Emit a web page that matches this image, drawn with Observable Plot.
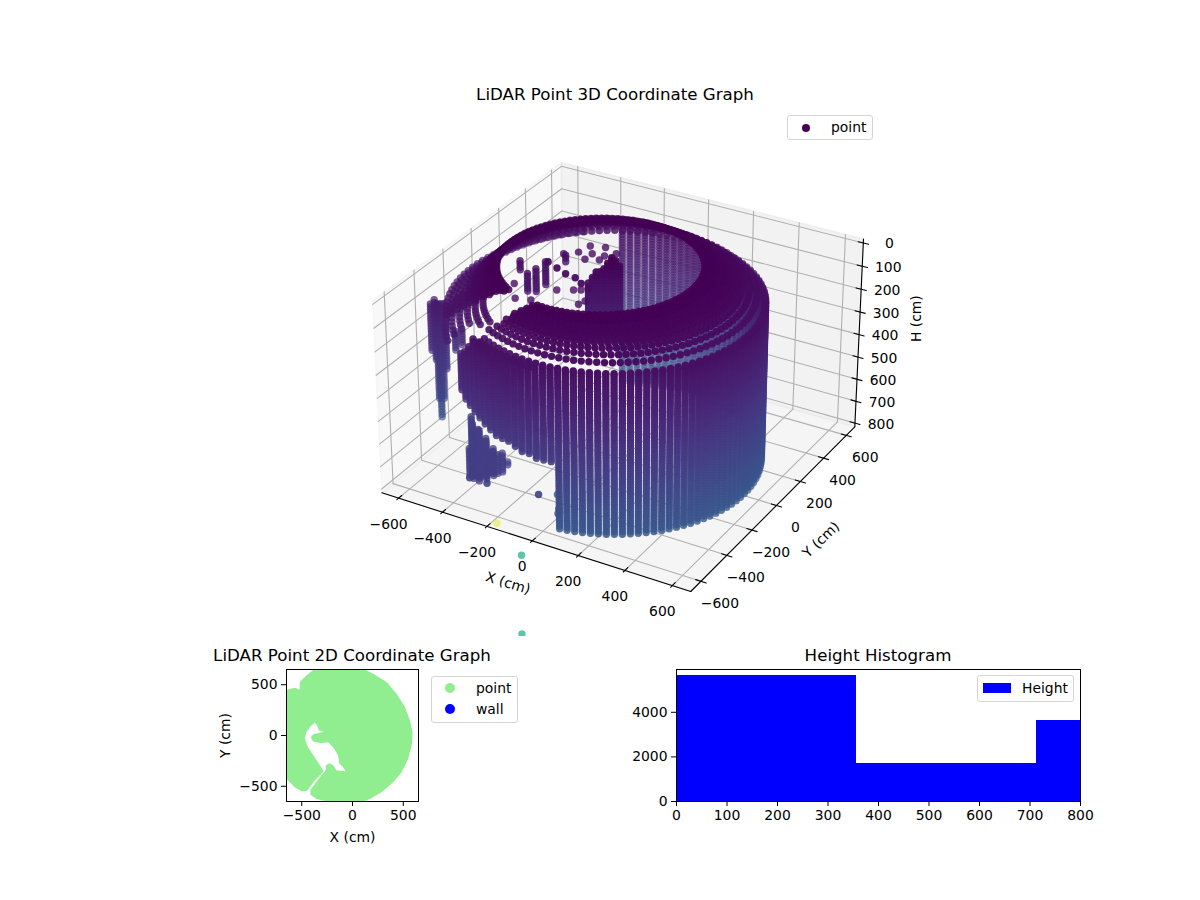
<!DOCTYPE html>
<html><head><meta charset="utf-8">
<script src="https://cdn.jsdelivr.net/npm/d3@7"></script>
<script src="https://cdn.jsdelivr.net/npm/@observablehq/plot@0.6"></script>
<style>
html,body{margin:0;padding:0;background:#fff}
#page{position:relative;width:1200px;height:900px;overflow:hidden;font-family:"DejaVu Sans",sans-serif;color:#000}
.abs{position:absolute}
.title{position:absolute;font-size:16.67px;white-space:nowrap;transform:translateX(-50%)}
.legend{position:absolute;background:rgba(255,255,255,.8);border:1px solid #d5d5d5;border-radius:3px;box-sizing:border-box}
.lt{position:absolute;font-size:13.9px;white-space:nowrap;line-height:16px}
.ld{position:absolute;border-radius:50%}
svg{font-family:"DejaVu Sans",sans-serif;background:transparent}
</style></head><body><div id="page"></div>
<script>
// ---- axis ticks and limits (cm)
const xyTicks=[-600,-400,-200,0,200,400,600];
const hTicks=[0,100,200,300,400,500,600,700,800];
const L=677, hTop=-17, hBottom=817;
// ---- wall: columns reaching the floor
const wallAz=[279,282,285,288,291,294,297,300,303,306,309,312,315,318,321,324,327,330,333,336,339,342,345,348,351,354,357,0,3,6,9,12,15,18,21,24,27,30,33,36,39,42,45,48,51,54,57,60,63,66,69,72,75,78,81,84,87,90,93,96,99,102,105,108,111,114,117];
// ---- wall: stepped columns (azimuth, highest and lowest height, radius)
const stairAz=[276,273,270,267,264,261,258,255,252,249,246,243,240,237,234,231];
const stairTop=[134,134,134,134,134,134,134,134,134,134,134,134,134,180,210,235];
const stairBottom=[535,535,530,527,525,510,502,500,495,485,475,463,450,435,425,400];
const stairRadius=[576,578,580,582,585,587,590,592,595,597,600,603,606,610,614,618];
const wallRows=[134,146,158,170,182,194,206,218,230,242,254,266,278,290,302,314,326,338,350,362,374,386,398,410,422,434,446,458,470,482,494,506,518,530,542,554,566,578,590,602,614,626,638,650,662,674,686,698,710,722,734,746,758,770,782,794,806,818];
const upperRows=[10,22,34,46,58,70,82,94,106,118];
const centerX=-45, centerY=15, wallRadius=575;
// ---- ceiling rings: radius, height, ring centre, gap from/to azimuth
const ringRadius=[395,403,411,419,427,435,444,453,463,474,486,503,523,547,575];
const ringHeight=[0,5,10,15,20,25,31,37,43,50,57,68,82,100,128];
const ringCx=[-105,-102,-98,-95,-92,-88,-85,-82,-78,-75,-70,-65,-58,-52,-45];
const ringCy=[15,15,15,15,15,15,15,15,15,15,15,15,15,15,15];
const gapFrom=[240,238,237,235,233,232,230,229,228,227,226,224,222,220,218];
const gapTo=[262,260,259,258,256,255,254,252,251,250,249,247,245,243,241];
const ringAz=[0,3,6,9,12,15,18,21,24,27,30,33,36,39,42,45,48,51,54,57,60,63,66,69,72,75,78,81,84,87,90,93,96,99,102,105,108,111,114,117,120,123,126,129,132,135,138,141,144,147,150,153,156,159,162,165,168,171,174,177,180,183,186,189,192,195,198,201,204,207,210,213,216,219,222,225,228,231,234,237,240,243,246,249,252,255,258,261,264,267,270,273,276,279,282,285,288,291,294,297,300,303,306,309,312,315,318,321,324,327,330,333,336,339,342,345,348,351,354,357];
// ---- outer lobes of the ceiling
const lobeRadius=[598,620,640,592,606,500,530,560,590,620,645];
const lobeHeight=[140,150,160,136,144,130,150,170,190,210,235];
const lobeFromAz=[105,130,165,241,241,200,200,190,190,190,190];
const lobeToAz=[218,218,218,270,255,232,228,222,222,222,222];
// ---- short hanging columns: x, y, top, bottom, colour value (0 = use height), opacity (0 = depth shade)
const stubX=[-186,-172,-160,-147,-135,-122,-109,-95,-83,-417,-410,-408,-368,-498,-410,-397,-357,-351,-342,-325,-326,-385,-372,-340,-330,-315,-736,-742,-717,-710,-701,-689,-656,-634];
const stubY=[59,66,74,82,90,97,105,111,119,-11,40,108,193,66,-464,-464,-480,-437,-407,-398,-325,-475,-450,-455,-420,-380,-212,-176,-200,-197,-191,-183,-165,-152];
const stubTop=[107,85,64,60,55,25,10,20,40,100,100,100,100,100,641,506,541,593,663,684,754,530,560,600,640,680,220,220,220,220,220,220,350,350];
const stubBottom=[256,256,256,256,256,256,256,256,256,182,208,208,143,156,780,780,780,780,780,780,780,780,770,780,770,770,435,495,650,735,650,520,435,410];
const stubC=[0,0,0,0,0,0,0,0,0,0,0,0,0,0,550,550,550,550,550,550,550,550,550,550,550,550,0,0,0,0,0,0,0,0];
const stubA=[0.95,0.95,0.95,0.95,0.95,0.95,0.95,0.95,0.95,0.8,0.8,0.8,0.8,0.8,0,0,0,0,0,0,0,0,0,0,0,0,0,0,0,0,0,0,0,0];
// ---- single points: x, y, h, colour value, fixed opacity (0 = depth shade)
const soloX=[-393,-336,-283,-234,-190,-147,-412,-346,-287,-244,-189,-164,-114,-106,-319,-261,-198,-228,-280,-228,-162,-279,-375,-332,-429,-349,-135,-73,-165,31,24,-15,0];
const soloY=[103,75,51,41,12,-8,-115,-215,-197,-79,-47,-33,-136,-101,299,318,293,253,192,214,160,246,190,231,-439,-440,-410,-373,-662,-803,-800,-460,-490];
const soloH=[100,100,100,100,100,100,100,100,100,100,100,100,100,100,100,100,100,100,100,100,100,100,100,100,800,800,800,800,800,800,1155,800,800];
const soloC=[100,100,100,100,100,100,100,100,100,100,100,100,100,100,100,100,100,100,100,100,100,100,100,100,620,620,600,1140,2900,1800,1800,700,700];
const soloA=[0.95,0.95,0.95,0.95,0.95,0.95,0.8,0.8,0.8,0.8,0.8,0.8,0.8,0.8,0.8,0.8,0.8,0.8,0.8,0.8,0.8,0.8,0.8,0.8,0.9,0.9,0.9,0.85,0.5,0.7,0.7,0,0];
// ---- 2D outline (cm)
const outlineX=[-372,105,204,336,434,517,566,592,586,549,484,401,286,171,72,-191,-355,-415,-415,-322,-263,-263,-230,-191,-158,-69,-92,-132,-141,-191,-240,-306,-388,-411,-382,-322,-283,-332,-349,-372,-415,-454,-470,-438,-372,-283,-372,-447,-503,-569,-668,-668,-569,-520,-520,-454,-372];
const outlineY=[658,658,609,526,411,280,148,33,-82,-230,-362,-461,-559,-625,-665,-665,-625,-582,-536,-411,-339,-296,-273,-290,-342,-352,-313,-273,-197,-115,-66,-76,-59,-16,16,26,43,49,99,128,89,33,-33,-115,-214,-352,-444,-543,-549,-510,-411,444,470,451,526,592,658];
// ---- histogram
const binStart=[0,356,712];
const binEnd=[356,712,1068];
const binCount=[5650,1700,3630];

// ---- perspective view
const box=[1.19,1.19,0.75], dist=10;
const el=30*Math.PI/180, az=-60*Math.PI/180;
const w=[Math.cos(el)*Math.cos(az),Math.cos(el)*Math.sin(az),Math.sin(el)];
const u=[-w[1],w[0],0].map(v=>v/Math.hypot(w[0],w[1]));
const v=[w[1]*u[2]-w[2]*u[1],w[2]*u[0]-w[0]*u[2],w[0]*u[1]-w[1]*u[0]];
function proj(x,y,h){
  const p=[(x+L)/(2*L)*box[0]-box[0]/2,(y+L)/(2*L)*box[1]-box[1]/2,(hBottom-h)/(hBottom-hTop)*box[2]-box[2]/2];
  const dot=(a,b)=>a[0]*b[0]+a[1]*b[1]+a[2]*b[2];
  const d=dist-dot(w,p);
  return {px:dot(u,p)/d,py:dot(v,p)/d,depth:d};
}
// ---- expand the cloud
const rad=d=>d*Math.PI/180;
let cloud=[];
const add=(x,y,h,c,a0)=>{const q=proj(x,y,h);cloud.push({...q,c:c||h,a0:a0||0});};
const onCircle=(cx,cy,r,a,h)=>add(cx+r*Math.cos(rad(a)),cy+r*Math.sin(rad(a)),h);
wallAz.forEach(a=>wallRows.forEach(h=>onCircle(centerX,centerY,wallRadius,a,h)));
stairAz.forEach((a,i)=>wallRows.filter(h=>h>=stairTop[i]&&h<=stairBottom[i]).forEach(h=>onCircle(centerX,centerY,stairRadius[i],a,h)));
ringRadius.forEach((r,i)=>ringAz.forEach(a=>{
  if(a>gapFrom[i]&&a<gapTo[i]) return;
  onCircle(ringCx[i],ringCy[i],r,a,ringHeight[i]);
}));
lobeRadius.forEach((r,i)=>ringAz.filter(a=>a>=lobeFromAz[i]&&a<=lobeToAz[i]).forEach(a=>onCircle(centerX,centerY,r,a,lobeHeight[i])));
const stubRows=upperRows.concat(wallRows);
stubX.forEach((x,i)=>stubRows.filter(h=>h>=stubTop[i]&&h<=stubBottom[i]).forEach(h=>add(x,stubY[i],h,stubC[i],stubA[i])));
soloX.forEach((x,i)=>add(x,soloY[i],soloH[i],soloC[i],soloA[i]));
const dmin=d3.min(cloud,d=>d.depth), dmax=d3.max(cloud,d=>d.depth);
cloud.forEach(d=>d.a=d.a0||1-0.55*(d.depth-dmin)/(dmax-dmin));
cloud.sort((a,b)=>b.depth-a.depth);

// ---- box furniture
const seg=(list,key,a,b)=>{const p=proj(...a),q=proj(...b);list.push({k:key,px:p.px,py:p.py},{k:key,px:q.px,py:q.py});};
const pane=(pts)=>pts.map(p=>proj(...p));
const paneLeft=pane([[-L,-L,hTop],[-L,L,hTop],[-L,L,hBottom],[-L,-L,hBottom],[-L,-L,hTop]]);
const paneBack=pane([[-L,L,hTop],[L,L,hTop],[L,L,hBottom],[-L,L,hBottom],[-L,L,hTop]]);
const paneFloor=pane([[-L,-L,hBottom],[L,-L,hBottom],[L,L,hBottom],[-L,L,hBottom],[-L,-L,hBottom]]);
let grid=[],axes=[];
xyTicks.forEach(t=>{
  seg(grid,"x"+t+"a",[t,-L,hBottom],[t,L,hBottom]); seg(grid,"x"+t+"b",[t,L,hBottom],[t,L,hTop]);
  seg(grid,"y"+t+"a",[-L,t,hBottom],[L,t,hBottom]); seg(grid,"y"+t+"b",[-L,t,hBottom],[-L,t,hTop]);
  seg(axes,"tx"+t,[t,-L-12,hBottom],[t,-L+22,hBottom]);
  seg(axes,"ty"+t,[L-22,t,hBottom],[L+22,t,hBottom]);
});
hTicks.forEach(t=>{
  seg(grid,"h"+t+"a",[-L,-L,t],[-L,L,t]); seg(grid,"h"+t+"b",[-L,L,t],[L,L,t]);
  seg(axes,"th"+t,[L-22,L,t],[L+22,L,t]);
});
seg(axes,"ax",[-L,-L,hBottom],[L,-L,hBottom]);
seg(axes,"ay",[L,-L,hBottom],[L,L,hBottom]);
seg(axes,"az",[L,L,hBottom],[L,L,hTop]);
const minus=t=>String(t).replace("-","\u2212");
const xLabels=xyTicks.map(t=>({...proj(t,-L,hBottom),t:minus(t)}));
const yLabels=xyTicks.map(t=>({...proj(L,t,hBottom),t:minus(t)}));
const hLabels=hTicks.map(t=>({...proj(L,L,t),t:String(t)}));
const c1=proj(-L,-L,hTop),c2=proj(L,L,hTop),c3=proj(-L,L,hTop),c4=proj(L,-L,hBottom);

const plot3d=Plot.plot({
  width:1200,height:636,margin:0,
  x:{axis:null,domain:[c1.px,c2.px],range:[372,863]},
  y:{axis:null,domain:[c3.py,c4.py],range:[162,591]},
  color:{type:"linear",scheme:"viridis",domain:[0,3000]},
  opacity:{type:"identity"},
  style:{fontFamily:"DejaVu Sans",background:"transparent"},
  marks:[
    Plot.line(paneLeft,{x:"px",y:"py",fill:"rgba(242,242,242,.5)",stroke:"rgba(242,242,242,.5)"}),
    Plot.line(paneBack,{x:"px",y:"py",fill:"rgba(230,230,230,.5)",stroke:"rgba(230,230,230,.5)"}),
    Plot.line(paneFloor,{x:"px",y:"py",fill:"rgba(236,236,236,.5)",stroke:"rgba(236,236,236,.5)"}),
    Plot.line(grid,{x:"px",y:"py",z:"k",stroke:"#b0b0b0",strokeWidth:1.1}),
    Plot.line(axes,{x:"px",y:"py",z:"k",stroke:"#000",strokeWidth:1.1}),
    Plot.dot(cloud,{x:"px",y:"py",r:3.7,fill:"c",fillOpacity:"a",stroke:"none"}),
    Plot.text(xLabels,{x:"px",y:"py",text:"t",dx:-10,dy:26,fontSize:13.9,fill:"#000"}),
    Plot.text(yLabels,{x:"px",y:"py",text:"t",dx:19,dy:22,fontSize:13.9,fill:"#000"}),
    Plot.text(hLabels,{x:"px",y:"py",text:"t",dx:26,dy:1,fontSize:13.9,fill:"#000"}),
    Plot.text(["X (cm)"],{x:proj(60,-L,hBottom).px,y:proj(60,-L,hBottom).py,dx:-38,dy:38,rotate:17,fontSize:13.9,fill:"#000"}),
    Plot.text(["Y (cm)"],{x:proj(L,-60,hBottom).px,y:proj(L,-60,hBottom).py,dx:52,dy:27,rotate:-44,fontSize:13.9,fill:"#000"}),
    Plot.text(["H (cm)"],{x:proj(L,L,400).px,y:proj(L,L,400).py,dx:57,dy:-16,rotate:-90,fontSize:13.9,fill:"#000"})
  ]
});
// ---- 2D scatter
const outline=outlineX.map((x,i)=>({x,y:outlineY[i]}));
const plot2d=Plot.plot({
  width:240,height:210,marginLeft:86,marginRight:22,marginTop:29,marginBottom:49,
  x:{domain:[-650,650]},y:{domain:[-650,650]},
  style:{fontFamily:"DejaVu Sans",fontSize:"13.9px",background:"transparent",color:"#000"},
  marks:[
    Plot.line(outline,{x:"x",y:"y",fill:"lightgreen",stroke:"none",clip:"frame"}),
    Plot.frame({stroke:"#000",strokeOpacity:1}),
    Plot.axisX({ticks:[-500,0,500],tickSize:5,tickPadding:4,label:"X (cm)",labelAnchor:"center",labelArrow:"none",labelOffset:40,fontSize:13.9}),
    Plot.axisY({ticks:[-500,0,500],tickSize:5,tickPadding:4,label:"Y (cm)",labelAnchor:"center",labelArrow:"none",labelOffset:66,fontSize:13.9})
  ]
});
// ---- histogram
const bins=binCount.map((c,i)=>({a:binStart[i],b:binEnd[i],c}));
const plotHist=Plot.plot({
  width:480,height:210,marginLeft:56,marginRight:20,marginTop:29,marginBottom:49,
  x:{domain:[0,800]},y:{domain:[0,5919]},
  style:{fontFamily:"DejaVu Sans",fontSize:"13.9px",background:"transparent",color:"#000"},
  marks:[
    Plot.rectY(bins,{x1:"a",x2:"b",y:"c",fill:"blue",shapeRendering:"crispEdges",clip:"frame"}),
    Plot.frame({stroke:"#000",strokeOpacity:1}),
    Plot.axisX({ticks:[0,100,200,300,400,500,600,700,800],tickSize:5,tickPadding:4,label:null,fontSize:13.9}),
    Plot.axisY({ticks:[0,2000,4000],tickFormat:d=>String(d),tickSize:5,tickPadding:4,label:null,fontSize:13.9})
  ]
});
const page=document.getElementById("page");
const place=(el,l,t)=>{const d=document.createElement("div");d.className="abs";d.style.left=l+"px";d.style.top=t+"px";d.appendChild(el);page.appendChild(d);return d;};
place(plot3d,0,0); place(plot2d,200,640); place(plotHist,620,640);
const html=(cls,l,t,text,extra)=>{const d=document.createElement("div");d.className=cls;d.style.left=l+"px";d.style.top=t+"px";if(text)d.textContent=text;if(extra)Object.assign(d.style,extra);page.appendChild(d);return d;};
html("title",615,85,"LiDAR Point 3D Coordinate Graph");
html("title",352,646,"LiDAR Point 2D Coordinate Graph");
html("title",878,646,"Height Histogram");
// legends
html("legend",787,115,"",{width:"86px",height:"25px"});
html("ld",802,124,"",{width:"8px",height:"8px",background:"#440154"});
html("lt",831,119,"point");
html("legend",431,676,"",{width:"87px",height:"47px"});
html("ld",445,683,"",{width:"10px",height:"10px",background:"lightgreen"});
html("ld",445,704,"",{width:"10px",height:"10px",background:"blue"});
html("lt",476,680,"point");
html("lt",476,701,"wall");
html("legend",977,675,"",{width:"97px",height:"27px"});
html("abs",983,683,"",{width:"28px",height:"10px",background:"blue"});
html("lt",1022,680,"Height");
</script></body></html>
